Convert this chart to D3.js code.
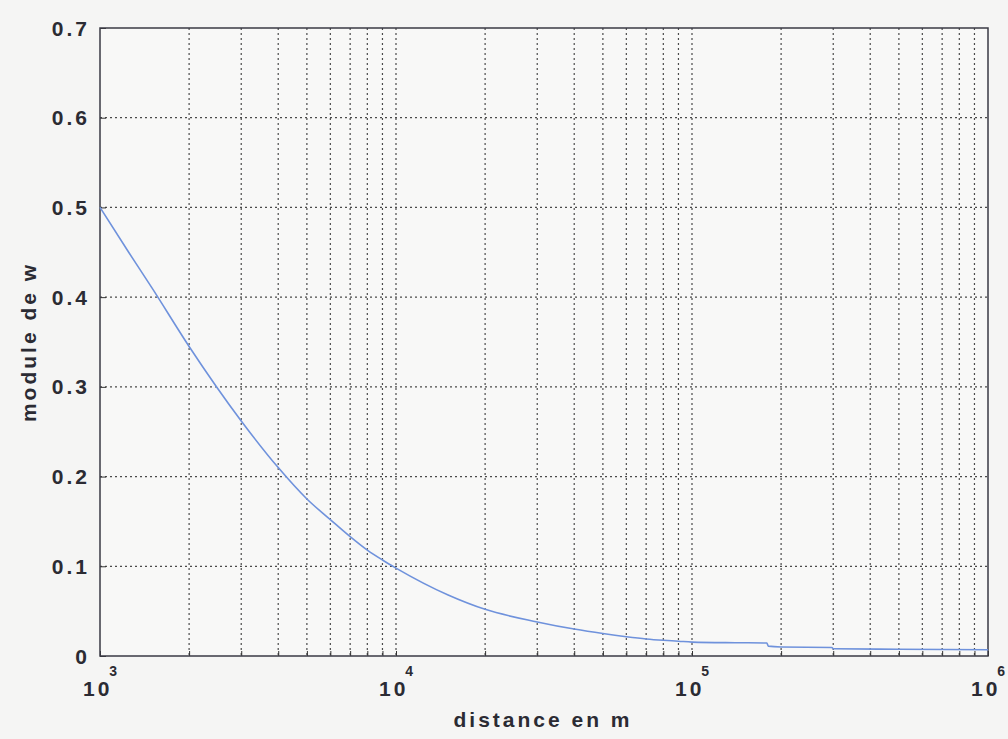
<!DOCTYPE html>
<html>
<head>
<meta charset="utf-8">
<script src="https://cdn.jsdelivr.net/npm/d3@7"></script>
<style>
  body { margin: 0; background: #f5f5f4; }
  svg { display: block; }
  .lbl { font-family: "Liberation Sans", Arial, sans-serif; font-weight: bold; fill: #2b2b33; letter-spacing: 3px; }
</style>
</head>
<body>
<svg id="chart"></svg>
<script>
// distance (m) and |w|
var distance = [1000, 1250, 1500, 2000, 3000, 4000, 5000, 6000, 7000, 8000, 9000, 10000,
                15000, 20000, 30000, 40000, 50000, 60000, 70000, 80000, 90000, 100000,
                140000, 179000, 181000, 200000, 297000, 300000, 500000, 1000000];
var modulus  = [0.5, 0.45, 0.41, 0.345, 0.262, 0.21, 0.175, 0.152, 0.133, 0.118, 0.107, 0.098,
                0.068, 0.052, 0.038, 0.030, 0.025, 0.0215, 0.019, 0.0175, 0.0165, 0.0155,
                0.0148, 0.0145, 0.011, 0.010, 0.0095, 0.008, 0.0075, 0.007];
var yTicks = [0, 0.1, 0.2, 0.3, 0.4, 0.5, 0.6, 0.7];
var xDecades = [1e3, 1e4, 1e5, 1e6];
var xLabelText = "distance en m";
var yLabelText = "module de w";

var width = 1008, height = 739;
var mLeft = 100, mRight = 988, mTop = 28, mBottom = 656;

var svg = d3.select("#chart")
  .attr("width", width)
  .attr("height", height);

svg.append("rect")
  .attr("width", width).attr("height", height)
  .attr("fill", "#f5f5f4");

svg.append("rect")
  .attr("x", mLeft).attr("y", mTop)
  .attr("width", mRight - mLeft).attr("height", mBottom - mTop)
  .attr("fill", "#f8f8f7");

var x = d3.scaleLog().domain([1e3, 1e6]).range([mLeft, mRight]);
var y = d3.scaleLinear().domain([0, 0.7]).range([mBottom, mTop]);

// minor + major vertical grid (all 1..9 x decade)
var xGrid = x.ticks().filter(d => d > 1e3 && d < 1e6);

svg.append("g")
  .selectAll("line")
  .data(xGrid)
  .enter().append("line")
    .attr("x1", d => x(d)).attr("x2", d => x(d))
    .attr("y1", mTop).attr("y2", mBottom)
    .attr("stroke", "#4a4a4a")
    .attr("stroke-width", 1.2)
    .attr("stroke-dasharray", "2,3");

svg.append("g")
  .selectAll("line")
  .data(yTicks.filter(d => d > 0 && d < 0.7))
  .enter().append("line")
    .attr("x1", mLeft).attr("x2", mRight)
    .attr("y1", d => y(d)).attr("y2", d => y(d))
    .attr("stroke", "#4a4a4a")
    .attr("stroke-width", 1.2)
    .attr("stroke-dasharray", "2,3");

// axes with inward ticks
svg.append("g")
  .attr("transform", "translate(" + mLeft + ",0)")
  .call(d3.axisLeft(y).tickValues(yTicks).tickSize(-6).tickFormat(""))
  .call(g => g.select(".domain").remove())
  .selectAll("line").attr("stroke", "#333");

svg.append("g")
  .attr("transform", "translate(0," + mBottom + ")")
  .call(d3.axisBottom(x).tickValues(x.ticks()).tickSizeInner(-5).tickSizeOuter(0).tickFormat(""))
  .call(g => g.select(".domain").remove())
  .selectAll("line").attr("stroke", "#333");

// box
svg.append("rect")
  .attr("x", mLeft).attr("y", mTop)
  .attr("width", mRight - mLeft).attr("height", mBottom - mTop)
  .attr("fill", "none")
  .attr("stroke", "#3a3a44")
  .attr("stroke-width", 1.5);

// curve
var line = d3.line()
  .x((d, i) => x(distance[i]))
  .y(d => y(d))
  .curve(d3.curveMonotoneX);

svg.append("path")
  .datum(modulus)
  .attr("d", line)
  .attr("fill", "none")
  .attr("stroke", "#6f92dc")
  .attr("stroke-width", 1.6);

// y tick labels
svg.append("g")
  .selectAll("text")
  .data(yTicks)
  .enter().append("text")
    .attr("class", "lbl")
    .attr("x", mLeft - 10)
    .attr("y", d => y(d))
    .attr("dy", "0.36em")
    .attr("text-anchor", "end")
    .style("font-size", "21px")
    .text(d => d === 0 ? "0" : d3.format(".1f")(d));

// x tick labels 10^n
var xl = svg.append("g")
  .selectAll("text")
  .data(xDecades)
  .enter().append("text")
    .attr("class", "lbl")
    .attr("x", d => x(d) - 17)
    .attr("y", 696)
    .style("font-size", "21px");

xl.append("tspan").text("10");
xl.append("tspan")
  .attr("dy", -20)
  .attr("dx", -3)
  .style("font-size", "14px")
  .text(d => Math.round(Math.log10(d)));

// axis titles
svg.append("text")
  .attr("class", "lbl")
  .attr("x", 543)
  .attr("y", 727)
  .attr("text-anchor", "middle")
  .style("font-size", "21px")
  .text(xLabelText);

svg.append("text")
  .attr("class", "lbl")
  .attr("transform", "translate(36,342) rotate(-90)")
  .attr("text-anchor", "middle")
  .style("font-size", "21px")
  .text(yLabelText);
</script>
</body>
</html>
